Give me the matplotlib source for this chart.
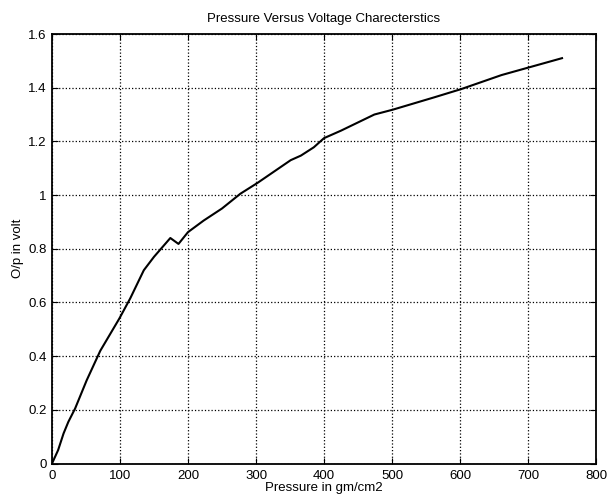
import numpy as np
import matplotlib.pyplot as plt

plt.rcParams['font.family'] = ['Liberation Sans', 'DejaVu Sans']

# pressure (gm/cm2) and output voltage (volt)
pressure = [0, 9, 17, 24, 34, 51, 71, 99, 115, 135, 150, 174, 186, 200,
            223, 250, 277, 302, 351, 366, 385, 400, 425, 474, 501, 562,
            602, 661, 750]
voltage = [0, 0.05, 0.112, 0.155, 0.205, 0.31, 0.42, 0.54, 0.615, 0.72,
           0.77, 0.84, 0.818, 0.862, 0.905, 0.95, 1.005, 1.045, 1.13,
           1.147, 1.178, 1.212, 1.24, 1.3, 1.318, 1.364, 1.395, 1.447, 1.51]

xticks = np.arange(0, 801, 100)
yticks = [0, 0.2, 0.4, 0.6, 0.8, 1, 1.2, 1.4, 1.6]
ytick_labels = ['0', '0.2', '0.4', '0.6', '0.8', '1', '1.2', '1.4', '1.6']

fig = plt.figure(figsize=(6.09, 5), dpi=100)
ax = fig.add_axes([0.0854, 0.073, 0.8933, 0.859])

ax.plot(pressure, voltage, color='black', linewidth=1.5)

ax.set_xlim(0, 800)
ax.set_ylim(0, 1.6)
ax.set_xticks(xticks)
ax.set_yticks(yticks)
ax.set_yticklabels(ytick_labels)
ax.grid(True, linestyle=':', color='black', linewidth=0.9)
ax.tick_params(direction='in', top=True, right=True, length=4,
               labelsize=9.5)
ax.tick_params(axis='x', pad=5)
ax.tick_params(axis='y', pad=4)
for s in ax.spines.values():
    s.set_linewidth(1.3)

ax.set_title('Pressure Versus Voltage Charecterstics', fontsize=9.5, pad=9)
ax.set_xlabel('Pressure in gm/cm2', fontsize=9.5, labelpad=0)
ax.set_ylabel('O/p in volt', fontsize=9.5, labelpad=3)

fig.savefig('out.png', dpi=100)
